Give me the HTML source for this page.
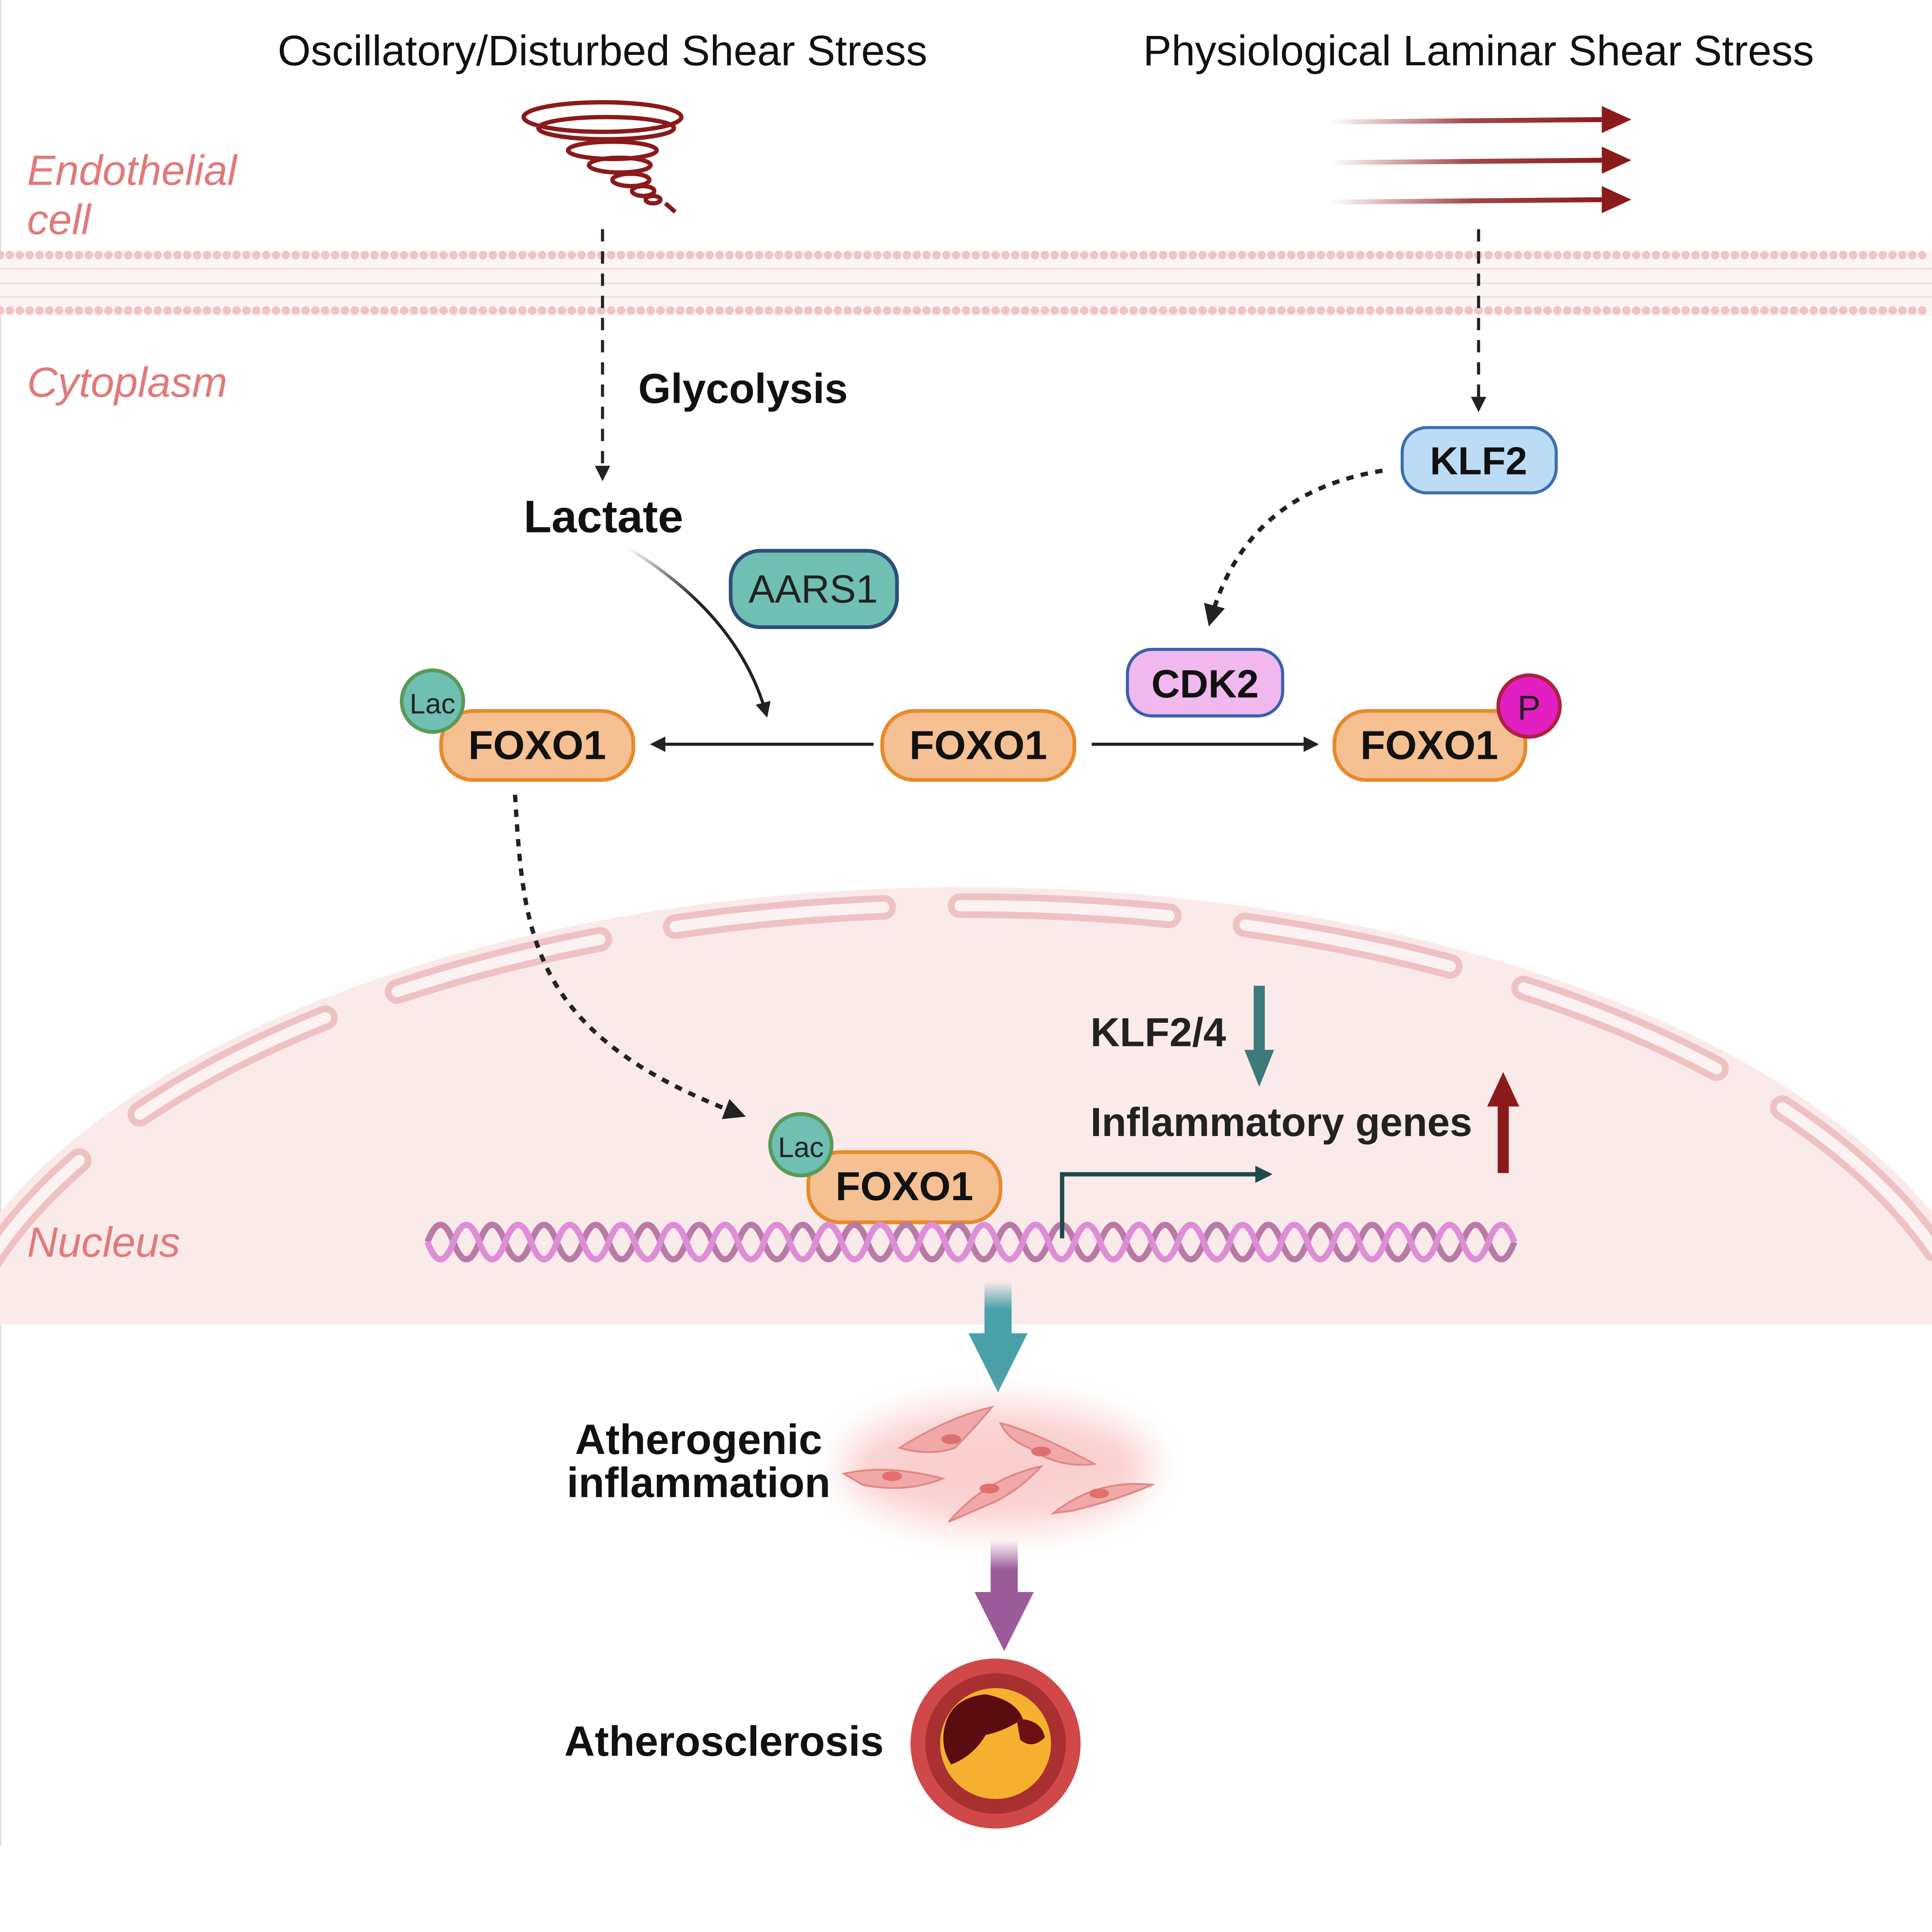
<!DOCTYPE html>
<html><head><meta charset="utf-8"><style>
html,body{margin:0;padding:0;background:#fff;overflow:hidden}
svg{display:block;width:100vw;height:95.54vw}
text{font-family:"Liberation Sans",Arial,sans-serif}
</style></head><body>
<svg xmlns="http://www.w3.org/2000/svg" viewBox="0 0 1568 1498" preserveAspectRatio="none">
<defs>
<linearGradient id="lam" x1="0" x2="1" y1="0" y2="0"><stop offset="0" stop-color="#8b1a1a" stop-opacity="0"/><stop offset="0.5" stop-color="#8b1a1a" stop-opacity="0.8"/><stop offset="1" stop-color="#8b1a1a"/></linearGradient>
<linearGradient id="lacg" x1="0" y1="0" x2="1" y2="1"><stop offset="0" stop-color="#222" stop-opacity="0"/><stop offset="0.4" stop-color="#222"/></linearGradient>
<linearGradient id="tealg" x1="0" y1="0" x2="0" y2="1"><stop offset="0" stop-color="#4aa0a8" stop-opacity="0"/><stop offset="0.5" stop-color="#4aa0a8"/></linearGradient>
<linearGradient id="purg" x1="0" y1="0" x2="0" y2="1"><stop offset="0" stop-color="#9b5a9a" stop-opacity="0"/><stop offset="0.5" stop-color="#9b5a9a"/></linearGradient>
<marker id="ah" viewBox="0 0 10 10" refX="8" refY="5" markerWidth="5" markerHeight="5" orient="auto"><path d="M0,0L10,5L0,10z" fill="#222"/></marker>
<marker id="aht" viewBox="0 0 10 10" refX="8" refY="5" markerWidth="4" markerHeight="4" orient="auto"><path d="M0,0L10,5L0,10z" fill="#1f4a4a"/></marker>
<filter id="glow" x="-50%" y="-50%" width="200%" height="200%"><feGaussianBlur stdDeviation="14"/></filter>
<clipPath id="nc"><rect x="0" y="0" width="1568" height="1075"/></clipPath>
</defs>
<rect width="1568" height="1498" fill="#fff"/>
<line x1="0.5" y1="0" x2="0.5" y2="1498" stroke="#ddd" stroke-width="1"/>

<g clip-path="url(#nc)">
<ellipse cx="784" cy="1150" rx="850" ry="430" fill="#fbeaea"/>
<ellipse cx="784" cy="1150" rx="832" ry="415" fill="none" stroke="#efc2c2" stroke-width="20" stroke-dasharray="170 62" stroke-linecap="round"/>
<ellipse cx="784" cy="1150" rx="832" ry="415" fill="none" stroke="#fdf2f2" stroke-width="9" stroke-dasharray="170 62" stroke-linecap="round"/>
</g>

<rect x="0" y="204" width="1568" height="52" fill="#fdf5f5"/>
<line x1="0" y1="207" x2="1568" y2="207" stroke="#f0c4c4" stroke-width="7" stroke-dasharray="0 8" stroke-linecap="round"/>
<line x1="0" y1="252" x2="1568" y2="252" stroke="#f0c4c4" stroke-width="7" stroke-dasharray="0 8" stroke-linecap="round"/>
<g stroke="#f6dede" stroke-width="1.5"><line x1="0" y1="218" x2="1568" y2="218"/><line x1="0" y1="230" x2="1568" y2="230"/><line x1="0" y1="241" x2="1568" y2="241"/></g>

<text x="489" y="53" font-size="34.5" text-anchor="middle" fill="#111">Oscillatory/Disturbed Shear Stress</text>
<text x="1200" y="53" font-size="34.5" text-anchor="middle" fill="#111">Physiological Laminar Shear Stress</text>
<g font-style="italic" font-size="34.4" fill="#e07a7a">
<text x="22" y="150">Endothelial</text><text x="22" y="190">cell</text>
<text x="22" y="322">Cytoplasm</text>
<text x="22" y="1020">Nucleus</text>
</g>

<g fill="none" stroke="#8b1a1a" stroke-width="3.5">
<ellipse cx="489" cy="95" rx="64" ry="12"/>
<ellipse cx="492" cy="104" rx="55" ry="9"/>
<ellipse cx="497" cy="122" rx="36" ry="7"/>
<ellipse cx="503" cy="134" rx="25" ry="6"/>
<ellipse cx="512" cy="146" rx="15" ry="5"/>
<ellipse cx="522" cy="155" rx="9" ry="4"/>
<ellipse cx="530" cy="162" rx="6" ry="3"/>
<path d="M540,165 L548,172"/>
</g>

<g stroke="url(#lam)" stroke-width="4" fill="none">
<path d="M1080,99 L1305,97"/><path d="M1080,132 L1305,130"/><path d="M1080,164 L1305,162"/>
</g>
<g fill="#8b1a1a"><path d="M1300,86 L1324,97 L1300,108z"/><path d="M1300,119 L1324,130 L1300,141z"/><path d="M1300,151 L1324,162 L1300,173z"/></g>

<line x1="489" y1="186" x2="489" y2="388" stroke="#222" stroke-width="2.5" stroke-dasharray="10 8" marker-end="url(#ah)"/>
<line x1="1200" y1="186" x2="1200" y2="332" stroke="#222" stroke-width="2.5" stroke-dasharray="10 8" marker-end="url(#ah)"/>

<text x="518" y="327" font-size="34" font-weight="bold" fill="#111">Glycolysis</text>
<text x="425" y="432" font-size="37" font-weight="bold" fill="#111">Lactate</text>

<path d="M510,445 Q600,500 622,580" fill="none" stroke="url(#lacg)" stroke-width="2.5" marker-end="url(#ah)"/>

<rect x="593" y="447" width="135" height="62" rx="24" fill="#6fbfb3" stroke="#2b4f7a" stroke-width="3"/>
<text x="660" y="489" font-size="32" text-anchor="middle" fill="#222">AARS1</text>

<rect x="1138" y="347" width="125" height="53" rx="20" fill="#bcdcf5" stroke="#3a6fb0" stroke-width="2.5"/>
<text x="1200" y="385" font-size="31.6" font-weight="bold" text-anchor="middle" fill="#111">KLF2</text>
<path d="M1122,382 Q1010,400 982,505" fill="none" stroke="#222" stroke-width="3.5" stroke-dasharray="6 6" marker-end="url(#ah)"/>

<rect x="915" y="527" width="126" height="54" rx="20" fill="#f0b8ec" stroke="#3a5fb0" stroke-width="2.5"/>
<text x="978" y="566" font-size="32" font-weight="bold" text-anchor="middle" fill="#111">CDK2</text>

<g fill="#f5c092" stroke="#e8892a" stroke-width="3">
<rect x="358" y="577" width="156" height="56" rx="26"/>
<rect x="716" y="577" width="156" height="56" rx="26"/>
<rect x="1083" y="577" width="155" height="56" rx="26"/>
<rect x="656" y="935" width="156" height="57" rx="26"/>
</g>
<g font-size="33" font-weight="bold" text-anchor="middle" fill="#111">
<text x="436" y="616">FOXO1</text><text x="794" y="616">FOXO1</text><text x="1160" y="616">FOXO1</text><text x="734" y="974">FOXO1</text>
</g>
<circle cx="351" cy="569" r="25" fill="#6fbfb3" stroke="#5a9a5a" stroke-width="3"/>
<text x="351" y="579" font-size="23" text-anchor="middle" fill="#222">Lac</text>
<circle cx="650" cy="929" r="25" fill="#6fbfb3" stroke="#5a9a5a" stroke-width="3"/>
<text x="650" y="939" font-size="23" text-anchor="middle" fill="#222">Lac</text>
<circle cx="1241" cy="573" r="25" fill="#e21fc0" stroke="#b02040" stroke-width="3"/>
<text x="1241" y="584" font-size="28" text-anchor="middle" fill="#222">P</text>

<line x1="709" y1="604" x2="530" y2="604" stroke="#222" stroke-width="2.5" marker-end="url(#ah)"/>
<line x1="886" y1="604" x2="1068" y2="604" stroke="#222" stroke-width="2.5" marker-end="url(#ah)"/>

<path d="M418,645 C425,760 430,840 602,905" fill="none" stroke="#222" stroke-width="3.5" stroke-dasharray="6 6" marker-end="url(#ah)"/>

<path fill="none" stroke="#b97aa8" stroke-width="5" d="M347,1008 q10.5,-28 21,0 t21,0 t21,0 t21,0 t21,0 t21,0 t21,0 t21,0 t21,0 t21,0 t21,0 t21,0 t21,0 t21,0 t21,0 t21,0 t21,0 t21,0 t21,0 t21,0 t21,0 t21,0 t21,0 t21,0 t21,0 t21,0 t21,0 t21,0 t21,0 t21,0 t21,0 t21,0 t21,0 t21,0 t21,0 t21,0 t21,0 t21,0 t21,0 t21,0 t21,0 t21,0"/>
<path fill="none" stroke="#dd8ed6" stroke-width="5" d="M347,1008 q10.5,28 21,0 t21,0 t21,0 t21,0 t21,0 t21,0 t21,0 t21,0 t21,0 t21,0 t21,0 t21,0 t21,0 t21,0 t21,0 t21,0 t21,0 t21,0 t21,0 t21,0 t21,0 t21,0 t21,0 t21,0 t21,0 t21,0 t21,0 t21,0 t21,0 t21,0 t21,0 t21,0 t21,0 t21,0 t21,0 t21,0 t21,0 t21,0 t21,0 t21,0 t21,0 t21,0"/>

<path d="M862,1005 L862,953 L1030,953" fill="none" stroke="#1f4a4a" stroke-width="3.5" marker-end="url(#aht)"/>

<text x="885" y="849" font-size="33" font-weight="bold" fill="#222">KLF2/4</text>
<line x1="1022" y1="800" x2="1022" y2="855" stroke="#3d7a7a" stroke-width="9"/>
<path d="M1010,852 L1034,852 L1022,882z" fill="#3d7a7a"/>
<text x="885" y="922" font-size="32.8" font-weight="bold" fill="#222">Inflammatory genes</text>
<line x1="1220" y1="952" x2="1220" y2="895" stroke="#8b1a1a" stroke-width="9"/>
<path d="M1207,898 L1233,898 L1220,870z" fill="#8b1a1a"/>

<rect x="799" y="1040" width="22" height="45" fill="url(#tealg)"/>
<path d="M786,1082 L834,1082 L810,1130z" fill="#4aa0a8"/>

<text x="567" y="1180" font-size="34.4" font-weight="bold" text-anchor="middle" fill="#111">Atherogenic</text>
<text x="567" y="1215" font-size="34.4" font-weight="bold" text-anchor="middle" fill="#111">inflammation</text>

<ellipse cx="810" cy="1190" rx="125" ry="50" fill="#f7b0b0" opacity="0.6" filter="url(#glow)"/>
<g fill="#f0a8a8" stroke="#e08888" stroke-width="1.5">
<path d="M730,1175 Q770,1150 805,1142 Q790,1160 775,1175 Q755,1182 730,1175z"/>
<path d="M812,1155 Q840,1162 888,1188 Q860,1192 835,1175 Q818,1168 812,1155z"/>
<path d="M685,1196 Q720,1188 765,1200 Q735,1212 700,1205z"/>
<path d="M770,1235 Q800,1200 845,1190 Q825,1212 800,1222z"/>
<path d="M855,1228 Q890,1200 935,1205 Q905,1218 870,1226z"/>
</g>
<g fill="#e07070"><ellipse cx="772" cy="1168" rx="8" ry="4"/><ellipse cx="845" cy="1178" rx="8" ry="4"/><ellipse cx="724" cy="1198" rx="8" ry="4"/><ellipse cx="803" cy="1208" rx="8" ry="4"/><ellipse cx="892" cy="1212" rx="8" ry="4"/></g>

<rect x="804" y="1250" width="22" height="48" fill="url(#purg)"/>
<path d="M791,1292 L839,1292 L815,1340z" fill="#9b5a9a"/>

<text x="458" y="1425" font-size="34.3" font-weight="bold" fill="#111">Atherosclerosis</text>
<circle cx="808" cy="1415" r="69" fill="#d04848"/>
<circle cx="808" cy="1415" r="57" fill="#a83030"/>
<circle cx="808" cy="1415" r="45" fill="#f5b030"/>
<path d="M766,1405 Q770,1378 800,1375 Q825,1380 830,1395 Q815,1405 800,1408 Q790,1425 772,1432 Q764,1420 766,1405z" fill="#5a0c10"/>
<path d="M825,1395 Q845,1395 848,1410 Q838,1420 828,1412z" fill="#6a1010"/>
</svg>
</body></html>
